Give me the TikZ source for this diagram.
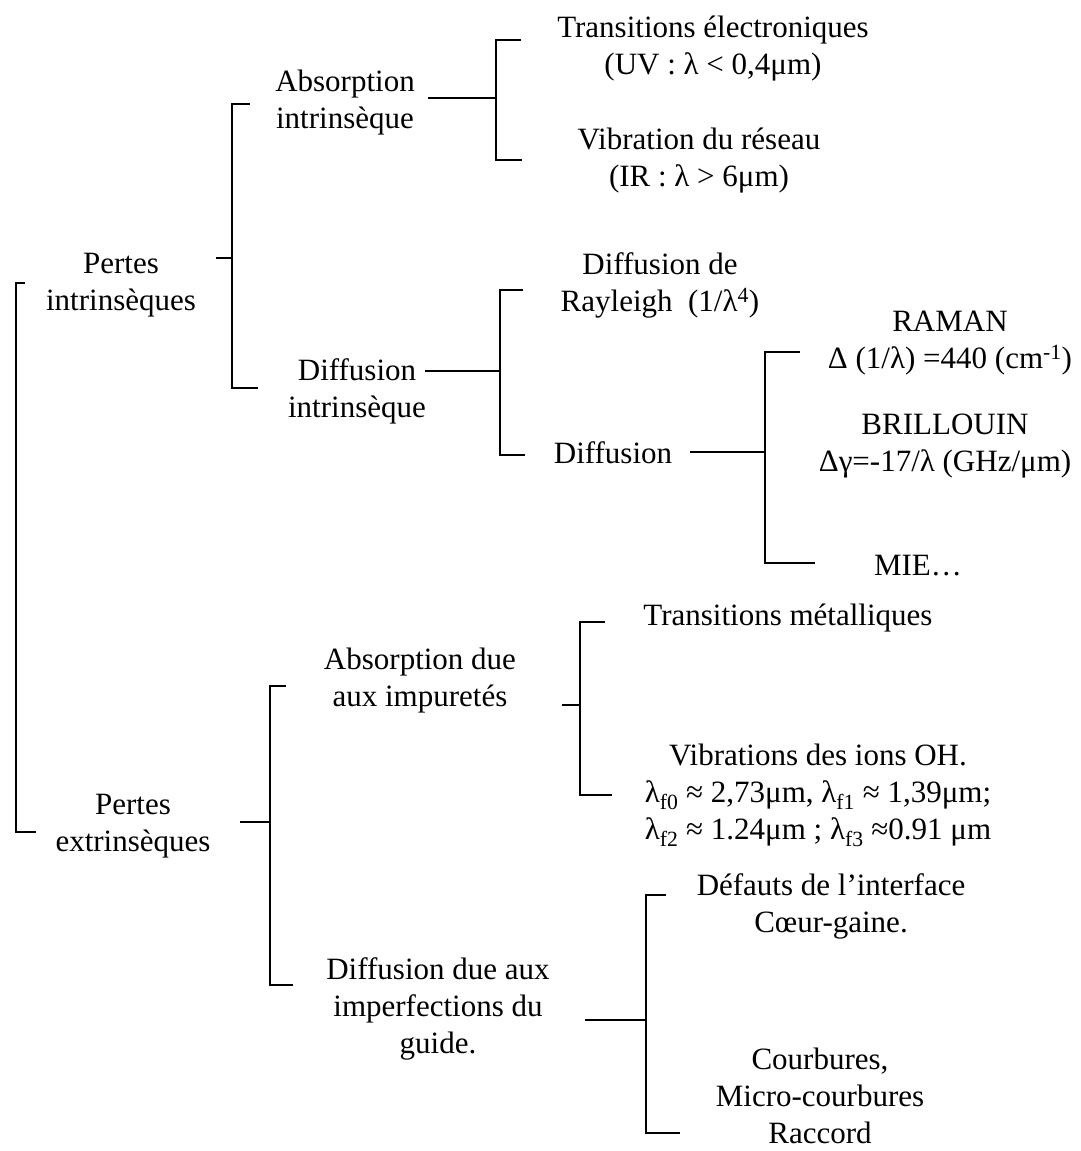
\documentclass[tikz,border=0pt]{standalone}
\usepackage{fontspec}
\setmainfont{Liberation Serif}
\begin{document}
\begin{tikzpicture}[
		x=1pt,y=-1pt,
		lbl/.style={align=center,inner sep=0pt,font=\fontsize{31}{37}\selectfont},
		brk/.style={line width=1.8pt}
	]
	\useasboundingbox (0,0) rectangle (1080,1151);
	% textes
	\node[lbl] (pin) at (121,285) {Pertes\\intrinsèques};
	\node[lbl] (pex) at (133,826) {Pertes\\extrinsèques};
	\node[lbl] (ai) at (345,103) {Absorption\\intrinsèque};
	\node[lbl] (di) at (357,391) {Diffusion\\intrinsèque};
	\node[lbl] (te) at (713,49) {Transitions électroniques\\(UV : λ < 0,4μm)};
	\node[lbl] (vr) at (699,161) {Vibration du réseau\\(IR : λ > 6μm)};
	\node[lbl] (dr) at (660,285) {Diffusion de\\Rayleigh\ \ (1/λ\textsuperscript{4})};
	\node[lbl] (df) at (613,453) {Diffusion};
	\node[lbl] (ra) at (950,343) {RAMAN\\Δ (1/λ) =440 (cm\textsuperscript{-1})};
	\node[lbl] (br) at (945,446) {BRILLOUIN\\Δγ=-17/λ (GHz/μm)};
	\node[lbl] (mie) at (918,566) {MIE…};
	\node[lbl] (ad) at (420,681) {Absorption due\\aux impuretés};
	\node[lbl] (tm) at (788,618) {Transitions métalliques};
	\node[lbl] (oh) at (818,795) {Vibrations des ions OH.\\λ\textsubscript{f0} ≈ 2,73μm, λ\textsubscript{f1} ≈ 1,39μm;\\λ\textsubscript{f2} ≈ 1.24μm ; λ\textsubscript{f3} ≈0.91 μm};
	\node[lbl] (dg) at (438,1009) {Diffusion due aux\\imperfections du\\guide.};
	\node[lbl] (dfi) at (831,906) {Défauts de l’interface\\Cœur-gaine.};
	\node[lbl] (cb) at (820,1096) {Courbures,\\Micro-courbures\\Raccord};
	% accolades
	\coordinate (R1) at (16,283); \coordinate (R2) at (16,832);
	\draw[brk] ([xshift=9pt]R1) -- (R1) -- (R2) -- ([xshift=20pt]R2);
	\coordinate (A0) at (232,258); \coordinate (A1) at (232,104); \coordinate (A2) at (232,388);
	\draw[brk] (A0) -- ++(-16,0);
	\draw[brk] ([xshift=18pt]A1) -- (A1) -- (A2) -- ([xshift=26pt]A2);
	\coordinate (B0) at (496,98); \coordinate (B1) at (496,40); \coordinate (B2) at (496,160);
	\draw[brk] (B0) -- ++(-68,0);
	\draw[brk] ([xshift=25pt]B1) -- (B1) -- (B2) -- ([xshift=26pt]B2);
	\coordinate (C0) at (500,371); \coordinate (C1) at (500,290); \coordinate (C2) at (500,455);
	\draw[brk] (C0) -- ++(-75,0);
	\draw[brk] ([xshift=23pt]C1) -- (C1) -- (C2) -- ([xshift=25pt]C2);
	\coordinate (D0) at (765,452); \coordinate (D1) at (765,352); \coordinate (D2) at (765,563);
	\draw[brk] (D0) -- ++(-75,0);
	\draw[brk] ([xshift=35pt]D1) -- (D1) -- (D2) -- ([xshift=50pt]D2);
	\coordinate (E0) at (580,705); \coordinate (E1) at (580,622); \coordinate (E2) at (580,795);
	\draw[brk] (E0) -- ++(-18,0);
	\draw[brk] ([xshift=25pt]E1) -- (E1) -- (E2) -- ([xshift=32pt]E2);
	\coordinate (F0) at (270,822); \coordinate (F1) at (270,686); \coordinate (F2) at (270,985);
	\draw[brk] (F0) -- ++(-30,0);
	\draw[brk] ([xshift=16pt]F1) -- (F1) -- (F2) -- ([xshift=23pt]F2);
	\coordinate (G0) at (646,1020); \coordinate (G1) at (646,895); \coordinate (G2) at (646,1133);
	\draw[brk] (G0) -- ++(-61,0);
	\draw[brk] ([xshift=20pt]G1) -- (G1) -- (G2) -- ([xshift=34pt]G2);
\end{tikzpicture}
\end{document}
